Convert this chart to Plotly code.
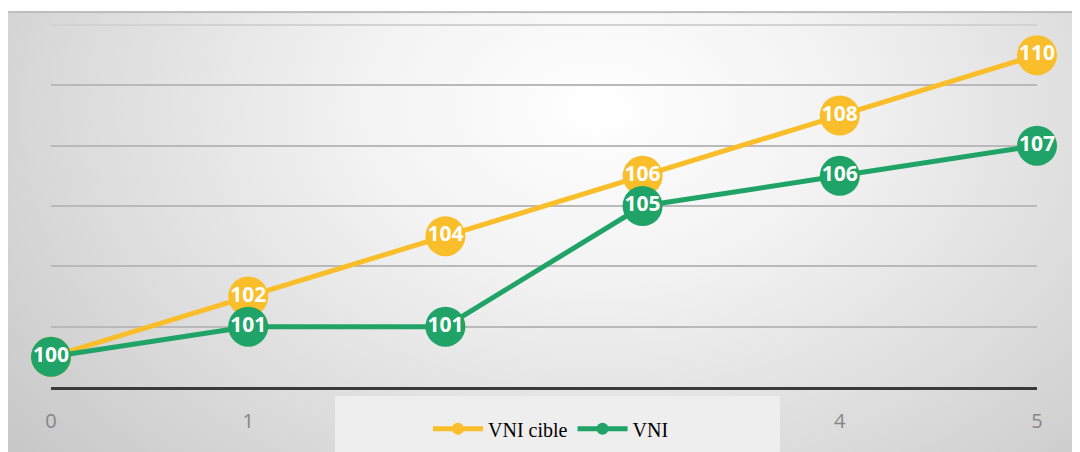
import plotly.graph_objects as go
import urllib.parse

periods = [0, 1, 2, 3, 4, 5]
vni_cible = [100, 102, 104, 106, 108, 110]
vni = [100, 101, 101, 105, 106, 107]
tick_labels = ["0", "1", "2", "3", "4", "5"]

# page: figure drawn 8px from the left/top; page height slightly compressed in the photo
OFFX, OFFY = 8, 8
SY = 452 / 460
W, H = 1072, 452

def fy(screen_y):
    return screen_y / SY - OFFY

PLOT_TOP, PLOT_BOTTOM = fy(25), fy(389)
ML, MR = 43, 43
MT, MB = PLOT_TOP, H - PLOT_BOTTOM
pw, ph = W - ML - MR, H - MT - MB

def px_x(p):
    return (p - OFFX - ML) / pw

def px_y(p):
    return (PLOT_BOTTOM - fy(p)) / ph

svg = (
    "<svg xmlns='http://www.w3.org/2000/svg' width='1072' height='441' viewBox='0 0 1072 441' preserveAspectRatio='none'>"
    "<defs><radialGradient id='g' cx='0.55' cy='0.22' r='0.72' gradientTransform='translate(0.55 0.22) scale(1 1.7) translate(-0.55 -0.22)'>"
    "<stop offset='0' stop-color='#ffffff'/>"
    "<stop offset='0.3' stop-color='#f3f3f3'/>"
    "<stop offset='0.7' stop-color='#dadada'/>"
    "<stop offset='1' stop-color='#c6c6c6'/>"
    "</radialGradient></defs>"
    "<rect width='1072' height='441' fill='url(#g)'/>"
    "<rect width='1072' height='2' fill='#bdbdbd'/>"
    "</svg>"
)
bg_src = "data:image/svg+xml;charset=utf-8," + urllib.parse.quote(svg)

yellow = "#F9BE2A"
green = "#1FA366"

fig = go.Figure()
for name, vals, col in [("VNI cible", vni_cible, yellow), ("VNI", vni, green)]:
    fig.add_trace(go.Scatter(
        x=periods, y=vals, name=name, mode="lines+markers+text",
        line=dict(color=col, width=5),
        marker=dict(color=col, size=40),
        text=[str(v) for v in vals], textposition="middle center",
        textfont=dict(color="white", size=21, family="Open Sans", weight="bold"),
        cliponaxis=False,
    ))

fig.update_layout(
    width=W, height=H,
    margin=dict(l=ML, r=MR, t=MT, b=MB),
    paper_bgcolor="white",
    plot_bgcolor="rgba(0,0,0,0)",
    showlegend=True,
    legend=dict(
        orientation="h", x=px_x(428), y=px_y(431), xanchor="left", yanchor="middle",
        bgcolor="rgba(0,0,0,0)",
        font=dict(family="Liberation Serif", size=20, color="black"),
        itemsizing="constant", itemwidth=50, tracegroupgap=0,
    ),
    xaxis=dict(
        range=[0, 5], tickvals=periods, ticktext=tick_labels,
        showgrid=False, zeroline=False,
        showline=True, linecolor="#3a3a3a", linewidth=3,
        ticks="outside", ticklen=14, tickcolor="rgba(0,0,0,0)",
        tickfont=dict(family="Open Sans", size=20, color="#868686"),
        fixedrange=True,
    ),
    yaxis=dict(
        range=[99, 111], tick0=99, dtick=2,
        showticklabels=False, showgrid=True, gridcolor="#b9b9b9", gridwidth=2,
        zeroline=False, showline=False,
    ),
    images=[dict(
        source=bg_src, xref="paper", yref="paper",
        x=px_x(8), y=px_y(11), sizex=px_x(1080) - px_x(8), sizey=px_y(11) - px_y(460),
        xanchor="left", yanchor="top", sizing="stretch", layer="below",
    )],
    shapes=[
        dict(
            type="line", xref="paper", yref="paper", x0=0, x1=1, y0=1, y1=1,
            line=dict(color="#d2d2d2", width=2), layer="below",
        ),
        dict(
            type="rect", xref="paper", yref="paper",
            x0=px_x(335), x1=px_x(780), y0=px_y(460), y1=px_y(398),
            fillcolor="#eeeeee", line=dict(width=0), layer="above",
        ),
    ],
)

fig.write_html("out.html")
